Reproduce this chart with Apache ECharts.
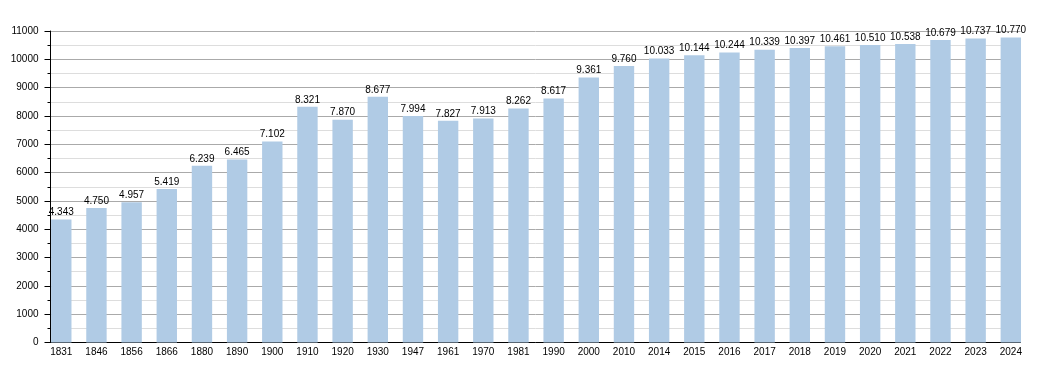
<!DOCTYPE html>
<html>
<head>
<meta charset="utf-8">
<script src="https://cdn.jsdelivr.net/npm/echarts@6/dist/echarts.min.js"></script>
<style>
html,body{margin:0;padding:0;background:#fff;}
#chart{width:1050px;height:373px;}
</style>
</head>
<body>
<div id="chart"></div>
<script>
const years = ['1831','1846','1856','1866','1880','1890','1900','1910','1920','1930','1947','1961','1970','1981','1990','2000','2010','2014','2015','2016','2017','2018','2019','2020','2021','2022','2023','2024'];
const population = [4343,4750,4957,5419,6239,6465,7102,8321,7870,8677,7994,7827,7913,8262,8617,9361,9760,10033,10144,10244,10339,10397,10461,10510,10538,10679,10737,10770];
const yMin = 0, yMax = 11000, yStep = 1000;

function fmt(v){ return String(v).replace(/\B(?=(\d{3})+(?!\d))/g, '.'); }

const font = 'Liberation Sans, Arial, Helvetica, sans-serif';
const chart = echarts.init(document.getElementById('chart'), null, {renderer:'canvas'});
chart.setOption({
  animation:false,
  backgroundColor:'#ffffff',
  grid:[
    {left:43.7, right:21.6, top:31, bottom:30.5},
    {left:50.5, right:29.5, top:31, bottom:30.5}
  ],
  xAxis:[
    {type:'category', gridIndex:0, data:years, boundaryGap:true,
     axisLine:{show:false}, axisTick:{show:false}, splitLine:{show:false},
     axisLabel:{interval:0, margin:5, color:'#000', fontSize:10, fontFamily:font}},
    {type:'value', gridIndex:1, min:0, max:1, show:true,
     axisLine:{show:true, onZero:false, lineStyle:{color:'#000', width:1}},
     axisTick:{show:false}, axisLabel:{show:false}, splitLine:{show:false}}
  ],
  yAxis:[
    {type:'value', gridIndex:0, min:yMin, max:yMax, show:false, splitLine:{show:false}},
    {type:'value', gridIndex:1, min:yMin, max:yMax, interval:yStep,
     axisLine:{show:true, lineStyle:{color:'#000', width:1}},
     axisTick:{show:true, length:6, lineStyle:{color:'#000'}},
     minorTick:{show:true, splitNumber:2, length:3, lineStyle:{color:'#000'}},
     splitLine:{show:true, lineStyle:{color:'#aaaaaa', width:1}},
     minorSplitLine:{show:true, lineStyle:{color:'#dddddd', width:1}},
     axisLabel:{margin:12, color:'#000', fontSize:10, fontFamily:font, formatter:v=>String(v)}}
  ],
  series:[{
    type:'bar', xAxisIndex:0, yAxisIndex:0, data:population,
    barWidth:'58%',
    itemStyle:{color:'#b0cbe5'},
    label:{show:true, position:'top', distance:2, color:'#000', fontSize:10, fontFamily:font,
      formatter:p=>fmt(p.value)}
  }]
});
</script>
</body>
</html>
